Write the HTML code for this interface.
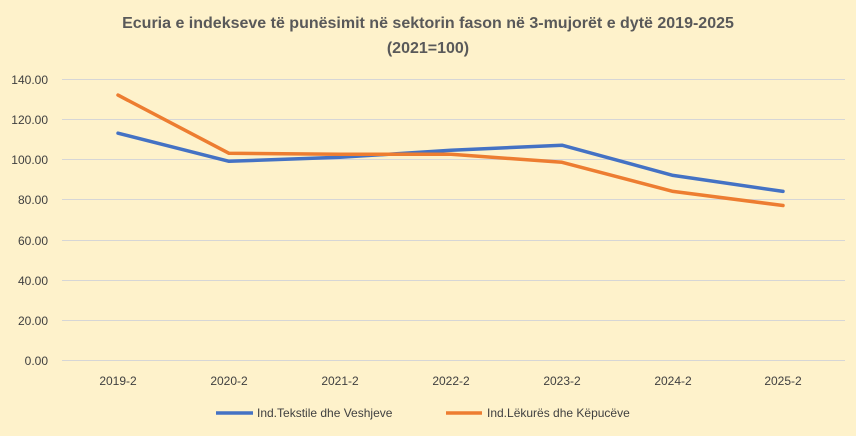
<!DOCTYPE html>
<html><head><style>
body{margin:0;width:856px;height:431px;background:#fef2cb;overflow:hidden}
</style></head><body>
<svg width="856" height="431" xmlns="http://www.w3.org/2000/svg" font-family="Liberation Sans, sans-serif">
<rect width="856" height="431" fill="#fef2cb"/>
<text x="428" y="28" text-anchor="middle" font-size="16" font-weight="bold" fill="#595959">Ecuria e indekseve të punësimit në sektorin fason në 3-mujorët e dytë 2019-2025</text>
<text x="428" y="53" text-anchor="middle" font-size="16" font-weight="bold" fill="#595959">(2021=100)</text>
<g stroke="#d6d6d6" stroke-width="1">
<line x1="62" x2="845" y1="79.5" y2="79.5"/>
<line x1="62" x2="845" y1="119.5" y2="119.5"/>
<line x1="62" x2="845" y1="159.5" y2="159.5"/>
<line x1="62" x2="845" y1="199.5" y2="199.5"/>
<line x1="62" x2="845" y1="240.5" y2="240.5"/>
<line x1="62" x2="845" y1="280.5" y2="280.5"/>
<line x1="62" x2="845" y1="320.5" y2="320.5"/>
<line x1="62" x2="845" y1="360.5" y2="360.5"/>
</g>
<g font-size="12" fill="#404040" text-anchor="end">
<text x="48" y="84">140.00</text><text x="48" y="124">120.00</text><text x="48" y="164">100.00</text>
<text x="48" y="204">80.00</text><text x="48" y="245">60.00</text><text x="48" y="285">40.00</text>
<text x="48" y="325">20.00</text><text x="48" y="365">0.00</text>
</g>
<g font-size="12" fill="#404040" text-anchor="middle">
<text x="118" y="385">2019-2</text><text x="229" y="385">2020-2</text><text x="340" y="385">2021-2</text>
<text x="451" y="385">2022-2</text><text x="562" y="385">2023-2</text><text x="673" y="385">2024-2</text><text x="783" y="385">2025-2</text>
</g>
<polyline fill="none" stroke="#4472c4" stroke-width="3.5" stroke-linejoin="round" stroke-linecap="round" points="118,133.2 229,161.3 340,157.3 451,150.3 562,145.2 673,175.4 783,191.4"/>
<polyline fill="none" stroke="#ed7d31" stroke-width="3.5" stroke-linejoin="round" stroke-linecap="round" points="118,95.1 229,153.3 340,154.3 451,154.3 562,162.3 673,191.4 783,205.5"/>
<line x1="216" x2="253" y1="413" y2="413" stroke="#4472c4" stroke-width="3.5"/>
<text x="257" y="417" font-size="12" fill="#404040">Ind.Tekstile dhe Veshjeve</text>
<line x1="446" x2="482" y1="413" y2="413" stroke="#ed7d31" stroke-width="3.5"/>
<text x="487" y="417" font-size="12" fill="#404040">Ind.Lëkurës dhe Këpucëve</text>
</svg>
</body></html>
